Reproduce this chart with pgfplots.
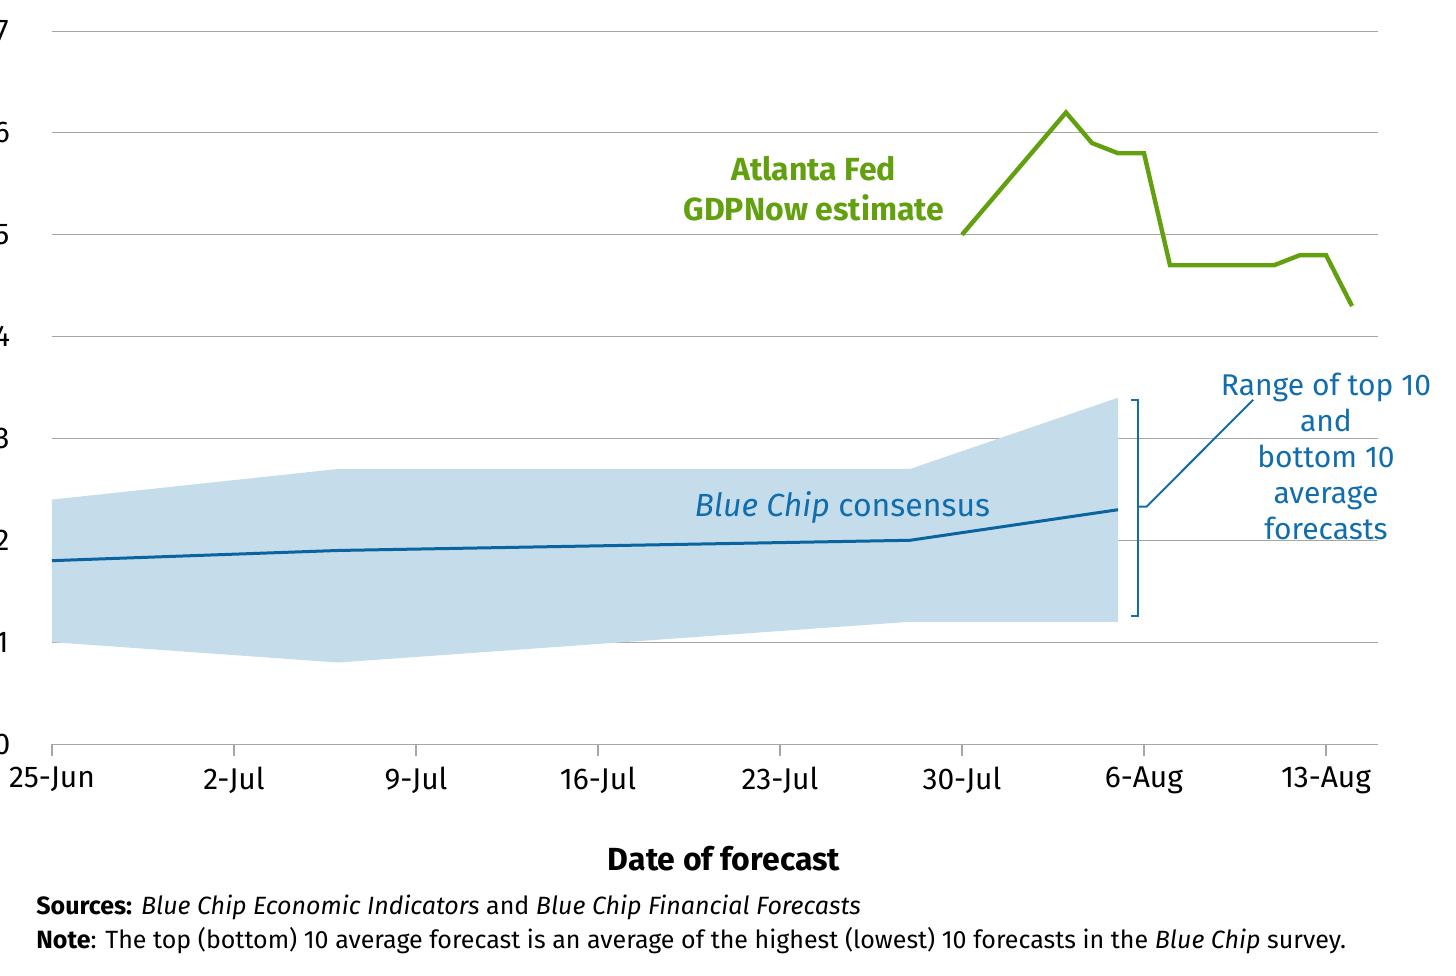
\documentclass[border=0pt]{standalone}
\usepackage{pgfplots}
\pgfplotsset{compat=1.18}
\usepackage{fontspec}
\setmainfont{Fira Sans}
\definecolor{gr}{HTML}{62A00F}
\definecolor{bl}{HTML}{0A64A0}
\definecolor{band}{HTML}{C5DCEA}
\definecolor{txb}{HTML}{106DAE}
\begin{document}
\begin{tikzpicture}
\useasboundingbox (-26pt,-115.5pt) rectangle (702pt,372pt);
\begin{axis}[at={(0,0)},anchor=south west,scale only axis,width=663pt,height=356.5pt,
 xmin=0,xmax=51,ymin=0,ymax=7,
 axis x line*=bottom, axis y line*=left,
 y axis line style={draw=none}, ytick style={draw=none},
 xtick={0,7,...,49},xticklabels={25-Jun,2-Jul,9-Jul,16-Jul,23-Jul,30-Jul,6-Aug,13-Aug},
 ytick={0,...,7},
 yticklabel style={anchor=center,xshift=-19pt},
 ymajorgrids, grid style={gray!70,line width=0.5pt},
 x axis line style={gray!70}, xtick style={gray!70,line width=0.6pt},
 tick align=outside, major tick length=6pt,
 ticklabel style={font=\fontsize{15}{18}\selectfont},
 xticklabel style={yshift=-2pt},
 /pgf/number format/assume math mode=true,
 clip=false]
\addplot[fill=band,draw=none] coordinates {(0,2.4)(11,2.7)(33,2.7)(41,3.4)(41,1.2)(33,1.2)(11,0.8)(0,1.0)} -- cycle;
\addplot[bl,line width=1.5pt] coordinates {(0,1.8)(11,1.9)(22,1.95)(33,2.0)(41,2.3)};
\addplot[gr,line width=2.2pt] coordinates {(35,5.0)(39,6.2)(40,5.9)(41,5.8)(42,5.8)(43,4.7)(47,4.7)(48,4.8)(49,4.8)(50,4.3)};
\draw[txb,line width=1pt] (axis cs:41.5,3.38)--(axis cs:41.75,3.38)--(axis cs:41.75,1.26)--(axis cs:41.5,1.26);
\draw[txb,line width=1pt] (axis cs:41.75,2.33)--(axis cs:42.1,2.33)--(axis cs:46.2,3.38);
\node[gr,font=\bfseries\fontsize{16}{20}\selectfont,align=center] at (axis cs:29.3,5.45) {Atlanta Fed\\GDPNow estimate};
\node[txb,font=\fontsize{16}{18}\selectfont] at (axis cs:30.4,2.32) {\textit{Blue Chip} consensus};
\node[txb,font=\fontsize{15}{18}\selectfont,align=center] at (axis cs:49,2.82) {Range of top 10\\and\\bottom 10\\average\\forecasts};
\end{axis}
\node[font=\bfseries\fontsize{16}{18}\selectfont,anchor=base] at (336pt,-63pt) {Date of forecast};
\node[font=\fontsize{12.5}{14}\selectfont,anchor=base west,inner sep=0pt] at (-8pt,-85pt) {\textbf{Sources:} \textit{Blue Chip Economic Indicators} and \textit{Blue Chip Financial Forecasts}};
\node[font=\fontsize{12.5}{14}\selectfont,anchor=base west,inner sep=0pt] at (-8pt,-102pt) {\textbf{Note}: The top (bottom) 10 average forecast is an average of the highest (lowest) 10 forecasts in the \textit{Blue Chip} survey.};
\end{tikzpicture}
\end{document}
